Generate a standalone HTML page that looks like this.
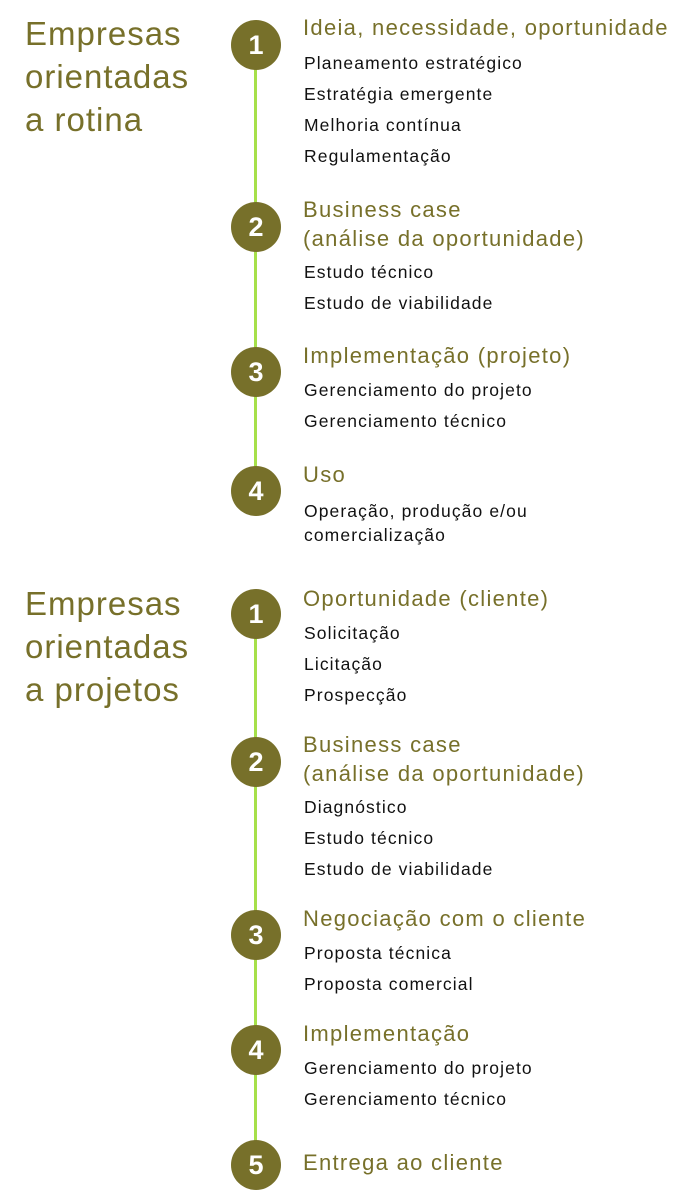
<!DOCTYPE html>
<html><head><meta charset="utf-8"><style>
body{margin:0;width:682px;height:1200px;background:#fff;position:relative;font-family:"Liberation Sans",sans-serif;overflow:hidden}
.t{position:absolute;white-space:nowrap}
.big{left:25px;font-size:33px;color:#77702a;line-height:43px;letter-spacing:1px}
.h{left:303px;font-size:22px;color:#77702a;line-height:29px;letter-spacing:1.3px}
.i{left:304px;font-size:17.5px;color:#111;line-height:20px;letter-spacing:1.1px}
.c{position:absolute;width:50px;height:50px;border-radius:50%;background:#77702a;color:#fff;font-size:27px;font-weight:bold;text-align:center;line-height:50px}
.l{position:absolute;left:254px;width:3px;background:#a6e04a}
</style></head><body>
<div class="t big" style="top:12px">Empresas<br>orientadas<br>a rotina</div>
<div class="t big" style="top:582px">Empresas<br>orientadas<br>a projetos</div>
<div class="l" style="top:45px;height:446px"></div>
<div class="l" style="top:614px;height:551px"></div>
<div class="c" style="left:231px;top:20px">1</div>
<div class="c" style="left:231px;top:202px">2</div>
<div class="c" style="left:231px;top:347px">3</div>
<div class="c" style="left:231px;top:466px">4</div>
<div class="c" style="left:231px;top:589px">1</div>
<div class="c" style="left:231px;top:737px">2</div>
<div class="c" style="left:231px;top:910px">3</div>
<div class="c" style="left:231px;top:1025px">4</div>
<div class="c" style="left:231px;top:1140px">5</div>

<div class="t h" style="top:13px">Ideia, necessidade, oportunidade</div>
<div class="t i" style="top:53px">Planeamento estratégico</div>
<div class="t i" style="top:84px">Estratégia emergente</div>
<div class="t i" style="top:115px">Melhoria contínua</div>
<div class="t i" style="top:146px">Regulamentação</div>
<div class="t h" style="top:195px">Business case<br>(análise da oportunidade)</div>
<div class="t i" style="top:262px">Estudo técnico</div>
<div class="t i" style="top:293px">Estudo de viabilidade</div>
<div class="t h" style="top:341px">Implementação (projeto)</div>
<div class="t i" style="top:380px">Gerenciamento do projeto</div>
<div class="t i" style="top:411px">Gerenciamento técnico</div>
<div class="t h" style="top:460px">Uso</div>
<div class="t i" style="top:499px;line-height:24px">Operação, produção e/ou<br>comercialização</div>

<div class="t h" style="top:584px">Oportunidade (cliente)</div>
<div class="t i" style="top:623px">Solicitação</div>
<div class="t i" style="top:654px">Licitação</div>
<div class="t i" style="top:685px">Prospecção</div>
<div class="t h" style="top:730px">Business case<br>(análise da oportunidade)</div>
<div class="t i" style="top:797px">Diagnóstico</div>
<div class="t i" style="top:828px">Estudo técnico</div>
<div class="t i" style="top:859px">Estudo de viabilidade</div>
<div class="t h" style="top:904px">Negociação com o cliente</div>
<div class="t i" style="top:943px">Proposta técnica</div>
<div class="t i" style="top:974px">Proposta comercial</div>
<div class="t h" style="top:1019px">Implementação</div>
<div class="t i" style="top:1058px">Gerenciamento do projeto</div>
<div class="t i" style="top:1089px">Gerenciamento técnico</div>
<div class="t h" style="top:1148px">Entrega ao cliente</div>
</body></html>
